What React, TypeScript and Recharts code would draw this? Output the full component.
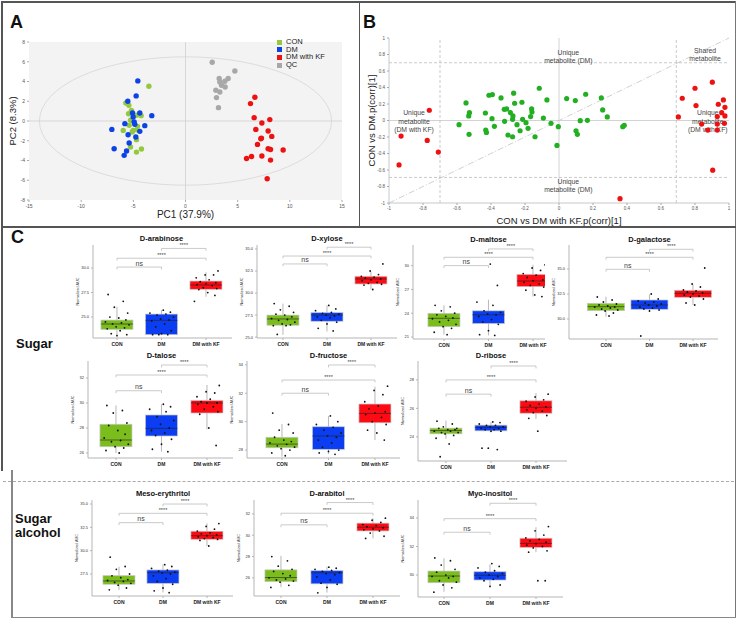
import React from 'react';
import {
  ScatterChart,
  ComposedChart,
  Scatter,
  Bar,
  XAxis,
  YAxis,
  CartesianGrid,
  ReferenceLine,
  ReferenceArea,
  ReferenceDot,
  Legend,
  Label,
} from 'recharts';

const FONT = '"Liberation Sans", Arial, Helvetica, sans-serif';

// ---------- Panel A: PCA score plot ----------
const pcaCon = [
  [-3.51, 3.52], [-5.72, 1.83], [-5.43, 1.59], [-5.18, 1.08], [-4.25, 0.54], [-5.46, 0.74],
  [-4.7, 0.58], [-5.27, 0.07], [-5.4, -0.44], [-4.6, -0.54], [-5.97, -0.95], [-5.02, -0.95],
  [-4.63, -0.88], [-5.11, -1.12], [-4.7, -1.89], [-5.27, -2.64], [-4.22, -2.84], [-4.7, -3.15],
];
const pcaDm = [
  [-4.57, 4.06], [-4.73, 2.54], [-5.53, 2.0], [-4.38, 0.81], [-5.08, 0.81], [-3.23, 0.54],
  [-5.02, 0.41], [-4.92, -0.1], [-5.81, -0.27], [-3.9, -0.47], [-4.86, -0.34], [-7.06, -0.85],
  [-4.38, -1.05], [-5.5, -1.39], [-4.76, -1.62], [-5.4, -2.23], [-6.84, -2.81], [-5.65, -3.04],
  [-5.88, -3.48],
];
const pcaKf = [
  [6.65, 2.4], [6.23, 1.76], [6.58, 0.34], [7.32, -0.2], [8.08, 0.14], [6.74, -0.85],
  [7.92, -1.01], [8.27, -1.56], [7.28, -1.73], [7.22, -1.79], [6.9, -2.37], [7.92, -2.81],
  [8.15, -2.88], [9.36, -2.94], [5.85, -3.79], [6.33, -3.59], [7.32, -3.55], [8.15, -3.96],
  [7.83, -5.85],
];
const pcaQc = [
  [2.56, 5.95], [4.73, 5.07], [3.23, 4.3], [4.09, 4.3], [3.29, 3.96], [3.77, 4.03],
  [3.45, 3.62], [3.8, 3.45], [2.91, 3.11], [3.29, 2.94], [2.97, 2.37], [3.16, 1.35],
];
const pcaXTicks = [-15, -10, -5, 0, 5, 10, 15];
const pcaYTicks = [-8, -6, -4, -2, 0, 2, 4, 6, 8];

// ---------- Panel B: S-plot ----------
const splotGreen = [
  [-0.588, -0.051], [-0.547, 0.213], [-0.527, 0.095], [-0.531, 0.055], [-0.529, -0.168],
  [-0.433, 0.091], [-0.431, -0.116], [-0.427, -0.144], [-0.412, 0.306], [-0.392, 0.314],
  [-0.394, 0.022], [-0.38, -0.071], [-0.341, 0.274], [-0.322, 0.136], [-0.308, 0.14],
  [-0.32, -0.01], [-0.3, -0.176], [-0.286, 0.095], [-0.271, 0.055], [-0.273, 0.014],
  [-0.267, 0.331], [-0.261, 0.209], [-0.273, -0.197], [-0.247, -0.051], [-0.229, -0.124],
  [-0.218, 0.221], [-0.214, 0.014], [-0.194, -0.026], [-0.182, -0.095], [-0.167, 0.047],
  [-0.161, 0.14], [-0.159, 0.103], [-0.141, -0.197], [-0.116, 0.391], [-0.092, 0.03],
  [-0.071, 0.249], [-0.047, -0.034], [-0.004, -0.075], [-0.012, -0.302], [0.045, 0.266],
  [0.096, 0.241], [0.1, -0.124], [0.108, -0.168], [0.125, -0.002], [0.157, 0.318],
  [0.167, 0.002], [0.249, 0.274], [0.257, 0.128], [0.284, 0.043], [0.375, -0.075],
  [0.384, -0.059],
];
const splotRed = [
  [-0.929, -0.189], [-0.763, 0.124], [-0.775, -0.241], [-0.71, -0.383], [-0.941, -0.538],
  [0.359, -0.947], [0.702, 0.043], [0.725, 0.27], [0.8, 0.391], [0.806, 0.181],
  [0.902, 0.465], [0.967, 0.249], [0.937, 0.197], [0.976, 0.16], [0.957, 0.095],
  [0.931, 0.047], [0.976, 0.055], [0.839, -0.043], [0.931, -0.043], [0.973, -0.034],
  [0.875, -0.116], [0.931, -0.116], [0.904, -0.602],
];
const splotTicks = [-1, -0.8, -0.6, -0.4, -0.2, 0, 0.2, 0.4, 0.6, 0.8, 1];
const splotNotes = [
  { x: 0.055, y: 0.77, lines: ['Unique', 'metabolite (DM)'] },
  { x: 0.055, y: -0.795, lines: ['Unique', 'metabolite (DM)'] },
  { x: -0.853, y: -0.014, lines: ['Unique', 'metabolite', '(DM with KF)'] },
  { x: 0.875, y: -0.014, lines: ['Unique', 'metabolite', '(DM with KF)'] },
  { x: 0.859, y: 0.797, lines: ['Shared', 'metabolite'] },
];

// ---------- Panel C: box plots ----------
const GROUPS = ['CON', 'DM', 'DM with KF'];
const GROUP_COLORS = ['#7cbd1e', '#0b3ef2', '#ff0a12'];
const SIG_PAIRS: [number, number, string][] = [[1, 2, 'ns'], [1, 3, '****'], [2, 3, '****']];
// fixed horizontal spread for the dots
const JITTER = [-0.2, 0.14, -0.06, 0.24, -0.16, 0.04, 0.2, -0.26, 0.1, -0.1, 0.27, -0.02, 0.17, -0.22, 0.07, -0.13, 0.22, 0];

// box stats per group: [min, q1, median, q3, max]
const arabinoseBox = [[23.16, 23.74, 24.29, 24.69, 26.05], [23.15, 23.2, 24.66, 25.3, 25.7], [27.07, 27.83, 28.27, 28.67, 29.56]];
const arabinosePts = [
  [27.3, 26.6, 26.0, 25.4, 25.0, 24.9, 24.7, 24.5, 24.4, 24.3, 24.2, 24.0, 23.9, 23.8, 23.6, 23.3, 23.2, 23.1],
  [25.7, 25.5, 25.4, 25.3, 25.2, 25.0, 24.8, 24.7, 24.6, 24.3, 24.0, 23.6, 23.3, 23.2, 23.2, 23.2],
  [29.7, 29.3, 29.3, 29.0, 28.8, 28.6, 28.5, 28.4, 28.3, 28.2, 28.0, 27.9, 27.8, 27.5, 27.2, 26.6],
];
const arabinoseSig = [30.1, 31.0, 32.0];

const xyloseBox = [[25.26, 26.35, 27.06, 27.5, 28.8], [25.64, 26.8, 27.5, 27.78, 28.6], [30.4, 31.03, 31.6, 31.9, 32.45]];
const xylosePts = [
  [28.8, 28.5, 28.1, 27.8, 27.6, 27.5, 27.3, 27.1, 27.0, 26.9, 26.7, 26.5, 26.4, 26.3, 26.3, 25.3],
  [28.6, 28.2, 28.0, 27.8, 27.7, 27.6, 27.5, 27.4, 27.3, 27.2, 26.9, 26.7, 26.5, 26.0, 25.7],
  [33.3, 32.5, 32.1, 31.9, 31.8, 31.7, 31.6, 31.5, 31.4, 31.2, 31.1, 31.0, 30.9, 30.4],
];
const xyloseSig = [33.3, 34.2, 35.2];

const maltoseBox = [[21.3, 22.3, 23.36, 23.99, 25.0], [21.2, 22.7, 23.8, 24.3, 25.7], [26.1, 27.35, 28.06, 28.9, 30.1]];
const maltosePts = [
  [25.0, 24.8, 24.3, 24.0, 23.8, 23.6, 23.4, 23.3, 23.1, 22.9, 22.6, 22.3, 22.1, 21.6, 21.3],
  [30.2, 27.5, 25.4, 25.0, 24.3, 24.1, 23.9, 23.8, 23.6, 23.2, 22.9, 22.6, 21.8, 21.3, 21.2],
  [30.1, 29.7, 29.4, 29.0, 28.8, 28.5, 28.2, 28.1, 27.9, 27.7, 27.5, 27.3, 26.9, 26.3, 26.1],
];
const maltoseSig = [30.0, 31.05, 32.1];

const galactoseBox = [[30.23, 30.83, 31.23, 31.57, 32.23], [30.8, 30.97, 31.4, 31.9, 32.47], [31.4, 32.17, 32.57, 32.87, 33.47]];
const galactosePts = [
  [32.2, 31.9, 31.7, 31.5, 31.4, 31.3, 31.2, 31.2, 31.1, 31.0, 30.9, 30.8, 30.6, 30.4, 30.3],
  [32.5, 32.0, 31.8, 31.7, 31.6, 31.5, 31.4, 31.3, 31.2, 31.1, 31.0, 30.9, 30.8, 28.3],
  [35.1, 33.5, 33.2, 32.9, 32.8, 32.7, 32.6, 32.5, 32.4, 32.3, 32.2, 32.0, 31.6, 31.4],
];
const galactoseSig = [34.97, 36.17, 36.97];

const taloseBox = [[26.0, 26.5, 27.04, 28.3, 29.8], [26.1, 27.36, 27.97, 29.04, 29.9], [27.9, 29.2, 30.0, 30.2, 31.44]];
const talosePts = [
  [29.8, 29.4, 29.2, 28.4, 28.2, 27.8, 27.5, 27.2, 27.0, 26.9, 26.7, 26.5, 26.4, 26.2, 26.0],
  [29.9, 29.7, 29.5, 29.3, 28.9, 28.6, 28.3, 28.0, 27.8, 27.6, 27.4, 27.1, 26.7, 26.3, 26.1],
  [31.4, 30.9, 30.8, 30.5, 30.3, 30.1, 30.0, 30.0, 29.9, 29.7, 29.5, 29.3, 29.1, 28.0, 26.6],
];
const taloseSig = [30.98, 32.24, 33.04];

const fructoseBox = [[27.53, 28.16, 28.42, 28.9, 29.83], [27.72, 28.05, 28.99, 29.64, 30.39], [28.7, 29.92, 30.58, 31.24, 32.46]];
const fructosePts = [
  [30.6, 29.8, 29.4, 29.2, 28.9, 28.7, 28.6, 28.5, 28.4, 28.3, 28.2, 28.1, 28.0, 27.8, 27.6],
  [30.4, 30.0, 29.8, 29.6, 29.4, 29.2, 29.0, 28.9, 28.7, 28.5, 28.2, 28.0, 27.9, 27.8, 27.7],
  [32.5, 32.2, 31.9, 31.4, 31.1, 30.9, 30.7, 30.6, 30.5, 30.3, 30.0, 29.8, 29.4, 29.2, 28.7],
];
const fructoseSig = [32.0, 32.93, 33.99];

const riboseBox = [[23.86, 24.21, 24.44, 24.61, 25.14], [24.3, 24.42, 24.65, 24.82, 25.05], [25.26, 25.66, 26.08, 26.53, 27.07]];
const ribosePts = [
  [25.1, 24.9, 24.7, 24.6, 24.6, 24.5, 24.5, 24.4, 24.4, 24.3, 24.3, 24.2, 24.1, 23.9, 23.5, 22.6],
  [25.05, 25.0, 24.9, 24.8, 24.8, 24.7, 24.7, 24.6, 24.6, 24.5, 24.5, 24.4, 24.4, 23.2, 23.1, 23.2],
  [27.0, 26.8, 26.6, 26.5, 26.3, 26.2, 26.1, 26.0, 25.9, 25.8, 25.7, 25.5, 25.3, 24.4],
];
const riboseSig = [27.0, 28.0, 28.98];

const erythritolBox = [[25.79, 26.4, 26.75, 27.32, 28.28], [25.54, 26.5, 27.64, 27.93, 28.54], [30.5, 31.22, 31.6, 32.08, 32.93]];
const erythritolPts = [
  [29.3, 28.3, 28.0, 27.5, 27.3, 27.1, 26.9, 26.8, 26.7, 26.6, 26.5, 26.3, 26.0, 25.8],
  [28.5, 28.3, 28.1, 27.9, 27.8, 27.7, 27.6, 27.5, 27.3, 27.0, 26.7, 26.4, 26.0, 25.7, 25.5],
  [32.9, 32.6, 32.3, 32.1, 31.9, 31.8, 31.7, 31.6, 31.5, 31.4, 31.3, 31.2, 31.1, 30.5],
];
const erythritolSig = [33.0, 34.0, 35.0];

const arabitolBox = [[25.13, 25.65, 26.03, 26.75, 28.06], [24.62, 25.44, 26.47, 26.68, 27.06], [29.7, 30.4, 30.75, 31.13, 31.6]];
const arabitolPts = [
  [28.0, 27.6, 27.1, 26.8, 26.6, 26.4, 26.2, 26.0, 25.9, 25.8, 25.7, 25.6, 25.3, 25.1],
  [27.0, 26.9, 26.8, 26.7, 26.6, 26.5, 26.4, 26.3, 26.1, 25.8, 25.5, 25.4, 25.1, 24.6],
  [31.6, 31.4, 31.2, 31.0, 30.9, 30.8, 30.7, 30.6, 30.5, 30.4, 30.2, 29.9, 29.7],
];
const arabitolSig = [30.97, 32.06, 33.06];

const inositolBox = [[28.83, 29.46, 29.93, 30.28, 31.17], [29.18, 29.65, 29.98, 30.23, 30.75], [31.6, 31.94, 32.22, 32.58, 33.35]];
const inositolPts = [
  [31.2, 31.0, 30.7, 30.4, 30.2, 30.0, 29.9, 29.9, 29.8, 29.6, 29.5, 29.3, 29.1, 28.8],
  [30.8, 30.6, 30.5, 30.3, 30.2, 30.1, 30.0, 29.9, 29.8, 29.7, 29.6, 29.3, 29.2],
  [33.4, 33.1, 32.8, 32.6, 32.5, 32.4, 32.3, 32.2, 32.1, 32.0, 31.9, 31.7, 31.6, 29.6, 29.6],
];
const inositolSig = [33.0, 33.95, 35.03];

// page layout: [y-axis x, x-axis right end, CON centre, DM with KF centre, axis top, axis bottom, title y]
const METABOLITES = [
  { title: 'D-arabinose', box: arabinoseBox, pts: arabinosePts, sig: arabinoseSig, domain: [22.86, 32.35], ticks: [25, 27.5, 30], dec: 1, pos: [93, 232, 117, 206, 245, 338, 239] },
  { title: 'D-xylose', box: xyloseBox, pts: xylosePts, sig: xyloseSig, domain: [24.9, 35.45], ticks: [25, 27.5, 30, 32.5, 35], dec: 1, pos: [257, 397, 283, 371, 245, 338, 239] },
  { title: 'D-maltose', box: maltoseBox, pts: maltosePts, sig: maltoseSig, domain: [20.75, 32.6], ticks: [21, 24, 27, 30], dec: 0, pos: [413, 545, 444, 533, 245, 339, 240] },
  { title: 'D-galactose', box: galactoseBox, pts: galactosePts, sig: galactoseSig, domain: [28.0, 37.4], ticks: [30, 32.5, 35], dec: 1, pos: [569, 718, 606, 693, 245, 339, 240], boxSize: 37 },
  { title: 'D-talose', box: taloseBox, pts: talosePts, sig: taloseSig, domain: [25.6, 33.36], ticks: [26, 28, 30, 32], dec: 0, pos: [88, 233, 116, 207, 361, 458, 356] },
  { title: 'D-fructose', box: fructoseBox, pts: fructosePts, sig: fructoseSig, domain: [27.44, 34.27], ticks: [28, 30, 32, 34], dec: 0, pos: [247, 400, 282, 375, 361, 458, 356] },
  { title: 'D-ribose', box: riboseBox, pts: ribosePts, sig: riboseSig, domain: [22.3, 29.33], ticks: [24, 26, 28], dec: 0, pos: [418, 567, 446, 536, 361, 461, 356] },
  { title: 'Meso-erythritol', box: erythritolBox, pts: erythritolPts, sig: erythritolSig, domain: [25.14, 35.43], ticks: [27.5, 30, 32.5, 35], dec: 1, pos: [92, 233, 119, 207, 500, 596, 494] },
  { title: 'D-arabitol', box: arabitolBox, pts: arabitolPts, sig: arabitolSig, domain: [24.3, 33.3], ticks: [26, 28, 30, 32], dec: 0, pos: [254, 400, 281, 373, 500, 596, 494] },
  { title: 'Myo-inositol', box: inositolBox, pts: inositolPts, sig: inositolSig, domain: [28.46, 35.26], ticks: [30, 32, 34], dec: 0, pos: [418, 563, 444, 536, 500, 597, 494] },
];

const toXY = (arr: number[][]) => arr.map(([x, y]) => ({ x, y }));
const dot = (r: number) => (p: any) => <circle cx={p.cx} cy={p.cy} r={r} fill={p.fill} />;

const ellipseShape = (p: any) => (
  <ellipse
    cx={p.x + p.width / 2}
    cy={p.y + p.height / 2}
    rx={Math.abs(p.width) / 2}
    ry={Math.abs(p.height) / 2}
    fill="none"
    stroke="#d6d6d6"
    strokeWidth={0.8}
  />
);

const PcaPanel = () => (
  <div style={{ position: 'absolute', left: 0, top: 36 }}>
    <ScatterChart width={358} height={190} margin={{ top: 6, right: 16, bottom: 0, left: 9 }}>
      <CartesianGrid fill="#f3f3f3" horizontal={false} vertical={false} />
      <XAxis type="number" dataKey="x" domain={[-15, 15]} ticks={pcaXTicks} interval={0} height={26}
        tick={{ fontSize: 5, fill: '#555' }} tickSize={2} axisLine={false} tickLine={{ stroke: '#aaa' }}>
        <Label value="PC1 (37.9%)" position="insideBottom" offset={8} style={{ fontSize: 10, fill: '#222' }} />
      </XAxis>
      <YAxis type="number" dataKey="y" domain={[-8, 8]} ticks={pcaYTicks} interval={0} width={20}
        tick={{ fontSize: 5, fill: '#555' }} tickSize={2} axisLine={false} tickLine={{ stroke: '#aaa' }}>
        <Label value="PC2 (8.3%)" angle={-90} position="insideLeft" offset={4} style={{ fontSize: 9.5, fill: '#222', textAnchor: 'middle' }} />
      </YAxis>
      <ReferenceArea x1={-14} x2={14} y1={-6.5} y2={6.5} shape={ellipseShape} />
      <ReferenceLine x={0} stroke="#cfcfcf" strokeWidth={0.8} />
      <ReferenceLine y={0} stroke="#cfcfcf" strokeWidth={0.8} />
      <Scatter name="CON" data={toXY(pcaCon)} fill="#95c93d" legendType="square" shape={dot(2.7)} isAnimationActive={false} />
      <Scatter name="DM" data={toXY(pcaDm)} fill="#0d42e6" legendType="square" shape={dot(2.7)} isAnimationActive={false} />
      <Scatter name="DM with KF" data={toXY(pcaKf)} fill="#ee1111" legendType="square" shape={dot(2.7)} isAnimationActive={false} />
      <Scatter name="QC" data={toXY(pcaQc)} fill="#a8a8a8" legendType="square" shape={dot(2.7)} isAnimationActive={false} />
      <Legend layout="vertical" align="center" verticalAlign="middle" iconSize={5}
        wrapperStyle={{ top: 2, left: 277, width: 80, fontSize: 7.5, lineHeight: '7.7px' }}
        formatter={(v: any) => <span style={{ color: '#222' }}>{v}</span>} />
    </ScatterChart>
  </div>
);

const noteLabel = (lines: string[]) => (props: any) => {
  const vb = props.viewBox || {};
  const cx = vb.x + (vb.width || 0) / 2;
  const cy = vb.y + (vb.height || 0) / 2;
  const lh = 8.3;
  return (
    <text x={cx} y={cy - ((lines.length - 1) * lh) / 2} textAnchor="middle" dominantBaseline="middle" fontSize={6.8} fill="#444">
      {lines.map((l, i) => (
        <tspan key={i} x={cx} dy={i === 0 ? 0 : lh}>{l}</tspan>
      ))}
    </text>
  );
};

const fmtCorr = (v: number) => String(Math.round(v * 10) / 10);

const SPlotPanel = () => (
  <div style={{ position: 'absolute', left: 360, top: 30 }}>
    <ScatterChart width={376} height={196} margin={{ top: 8, right: 7, bottom: 0, left: 11 }}>
      <XAxis type="number" dataKey="x" domain={[-1, 1]} ticks={splotTicks} interval={0} height={23}
        tickFormatter={fmtCorr} tick={{ fontSize: 4.5, fill: '#555' }} tickSize={2}
        axisLine={{ stroke: '#c8c8c8' }} tickLine={{ stroke: '#aaa' }}>
        <Label value="CON vs DM with KF.p(corr)[1]" position="insideBottom" offset={2} style={{ fontSize: 9.5, fill: '#222' }} />
      </XAxis>
      <YAxis type="number" dataKey="y" domain={[-1, 1]} ticks={splotTicks} interval={0} width={18}
        tickFormatter={fmtCorr} tick={{ fontSize: 4.5, fill: '#555' }} tickSize={2}
        axisLine={{ stroke: '#c8c8c8' }} tickLine={{ stroke: '#aaa' }}>
        <Label value="CON vs DM.p(corr)[1]" angle={-90} position="insideLeft" offset={1} style={{ fontSize: 9.5, fill: '#222', textAnchor: 'middle' }} />
      </YAxis>
      <ReferenceLine x={0} stroke="#c8c8c8" strokeWidth={0.8} />
      <ReferenceLine y={0} stroke="#c8c8c8" strokeWidth={0.8} />
      <ReferenceLine x={-0.7} stroke="#bdbdbd" strokeWidth={0.8} strokeDasharray="3 2" />
      <ReferenceLine x={0.69} stroke="#bdbdbd" strokeWidth={0.8} strokeDasharray="3 2" />
      <ReferenceLine y={0.7} stroke="#bdbdbd" strokeWidth={0.8} strokeDasharray="3 2" />
      <ReferenceLine y={-0.69} stroke="#bdbdbd" strokeWidth={0.8} strokeDasharray="3 2" />
      <ReferenceLine segment={[{ x: -1, y: -1 }, { x: 1, y: 1 }]} stroke="#c4c4c4" strokeWidth={0.8} strokeDasharray="6 2 1 2" />
      {splotNotes.map((n, i) => (
        <ReferenceDot key={i} x={n.x} y={n.y} r={0} fill="none" stroke="none" label={noteLabel(n.lines)} />
      ))}
      <Scatter data={toXY(splotGreen)} fill="#22b022" shape={dot(2.6)} isAnimationActive={false} />
      <Scatter data={toXY(splotRed)} fill="#ee1111" shape={dot(2.6)} isAnimationActive={false} />
    </ScatterChart>
  </div>
);

// draws whisker, box and median inside the range bar; box width is fixed in px
const boxShape = (bw: number) => (props: any) => {
  const { x, y, width, height, payload } = props;
  if (!payload || !payload.range) return null;
  const top = Math.min(y, y + height);
  const h = Math.abs(height);
  const [lo, hi] = payload.range;
  const py = (v: number) => top + ((hi - v) / (hi - lo)) * h;
  const cx = x + width / 2;
  const left = cx - bw / 2;
  return (
    <g>
      <line x1={cx} x2={cx} y1={top} y2={top + h} stroke="#9a9a9a" strokeWidth={0.7} />
      <rect x={left} y={py(payload.q3)} width={bw} height={py(payload.q1) - py(payload.q3)}
        fill={payload.color} stroke="#c6c6c6" strokeWidth={0.7} />
      <line x1={left} x2={left + bw} y1={py(payload.med)} y2={py(payload.med)} stroke="#222" strokeWidth={0.6} />
    </g>
  );
};

const sigLabel = (txt: string) => (props: any) => {
  const vb = props.viewBox || {};
  let cx: number;
  let cy: number;
  if (vb.x1 !== undefined) {
    cx = (vb.x1 + vb.x2) / 2;
    cy = Math.min(vb.y1, vb.y2);
  } else {
    cx = vb.x + (vb.width || 0) / 2;
    cy = vb.y;
  }
  const ns = txt === 'ns';
  return (
    <text x={cx} y={cy - (ns ? 1.5 : 1)} textAnchor="middle" fontSize={ns ? 7 : 5.5} fill="#444">
      {txt}
    </text>
  );
};

const BoxPlot = ({ m }: { m: any }) => {
  const [axisX, axisRight, c1, c3, axisTop, axisBottom, titleY] = m.pos;
  const YW = 20;
  const XH = 12;
  const MT = 10;
  const MR = 12;
  const u = 2 / (c3 - c1);
  const xDomain = [1 - (c1 - axisX) * u, 3 + (axisRight - c3) * u];
  const tk = (m.domain[1] - m.domain[0]) * 0.025;
  const rows = m.box.map((s: number[], i: number) => ({
    x: i + 1, range: [s[0], s[4]], q1: s[1], med: s[2], q3: s[3], color: GROUP_COLORS[i],
  }));
  const dots = m.pts.flatMap((arr: number[], g: number) =>
    arr.map((v, i) => ({ x: g + 1 + JITTER[(i + g * 5) % JITTER.length], y: v })));
  return (
    <>
      <div style={{ position: 'absolute', left: (c1 + c3) / 2 - 60, width: 120, top: titleY - 5, textAlign: 'center', fontSize: 7.5, fontWeight: 'bold', lineHeight: '10px', color: '#111' }}>
        {m.title}
      </div>
      <div style={{ position: 'absolute', left: axisX - YW, top: axisTop - MT }}>
        <ComposedChart width={axisRight - axisX + YW + MR} height={axisBottom - axisTop + XH + MT} data={rows}
          margin={{ top: MT, right: MR, bottom: 0, left: 0 }}>
          <XAxis type="number" dataKey="x" domain={xDomain} allowDataOverflow ticks={[1, 2, 3]} interval={0} height={XH}
            tickFormatter={(v: number) => GROUPS[v - 1]} tick={{ fontSize: 5, fontWeight: 'bold', fill: '#222' }}
            tickSize={2} axisLine={{ stroke: '#b5b5b5' }} tickLine={{ stroke: '#b5b5b5' }} />
          <YAxis type="number" domain={m.domain} allowDataOverflow ticks={m.ticks} interval={0} width={YW}
            tickFormatter={(v: number) => v.toFixed(m.dec)} tick={{ fontSize: 4, fill: '#333' }}
            tickSize={2} axisLine={{ stroke: '#b5b5b5' }} tickLine={{ stroke: '#b5b5b5' }}>
            <Label value="Normalized AUC" angle={-90} position="insideLeft" offset={5} style={{ fontSize: 3.8, fill: '#333', textAnchor: 'middle' }} />
          </YAxis>
          {SIG_PAIRS.map(([g1, g2, txt], i) => (
            <ReferenceLine key={'b' + i} ifOverflow="visible" stroke="#bdbdbd" strokeWidth={0.8}
              segment={[{ x: g1, y: m.sig[i] }, { x: g2, y: m.sig[i] }]}
              label={sigLabel(txt)} />
          ))}
          {SIG_PAIRS.map(([g1, g2], i) => (
            <ReferenceLine key={'l' + i} ifOverflow="visible" stroke="#bdbdbd" strokeWidth={0.8}
              segment={[{ x: g1, y: m.sig[i] }, { x: g1, y: m.sig[i] - tk }]} />
          ))}
          {SIG_PAIRS.map(([g1, g2], i) => (
            <ReferenceLine key={'r' + i} ifOverflow="visible" stroke="#bdbdbd" strokeWidth={0.8}
              segment={[{ x: g2, y: m.sig[i] }, { x: g2, y: m.sig[i] - tk }]} />
          ))}
          <Bar dataKey="range" barSize={m.boxSize || 32} shape={boxShape(m.boxSize || 32)} isAnimationActive={false} />
          <Scatter data={dots} dataKey="y" fill="#111" shape={dot(0.9)} isAnimationActive={false} />
        </ComposedChart>
      </div>
    </>
  );
};

const line = (left: number, top: number, width: number, height: number, color = '#555') => (
  <div style={{ position: 'absolute', left, top, width, height, background: color }} />
);

const big = (text: React.ReactNode, left: number, top: number, size: number) => (
  <div style={{ position: 'absolute', left, top, fontSize: size, fontWeight: 'bold', lineHeight: `${size + 1}px`, color: '#111' }}>{text}</div>
);

export default function App() {
  return (
    <div style={{ position: 'absolute', left: 0, top: 0, width: 738, height: 620, background: '#fff', fontFamily: FONT, overflow: 'hidden' }}>
      {line(1, 1, 735, 1.5)}
      {line(1, 1, 1.5, 470)}
      {line(11, 470, 1.5, 148, '#888')}
      {line(734.5, 1, 1.5, 617, '#777')}
      {line(11, 616.5, 725, 1.5, '#888')}
      {line(358.5, 1, 1.5, 226)}
      {line(1, 226, 735, 1.5)}
      <div style={{ position: 'absolute', left: 3, top: 481, width: 731, borderTop: '1px dashed #aaa' }} />

      {big('A', 10, 13, 18)}
      {big('B', 363, 13, 18)}
      {big('C', 11, 228, 18)}
      {big('Sugar', 16, 337, 13)}
      {big(<>Sugar<br />alcohol</>, 15, 512, 13)}

      <PcaPanel />
      <SPlotPanel />
      {METABOLITES.map((m) => (
        <BoxPlot key={m.title} m={m} />
      ))}
    </div>
  );
}
